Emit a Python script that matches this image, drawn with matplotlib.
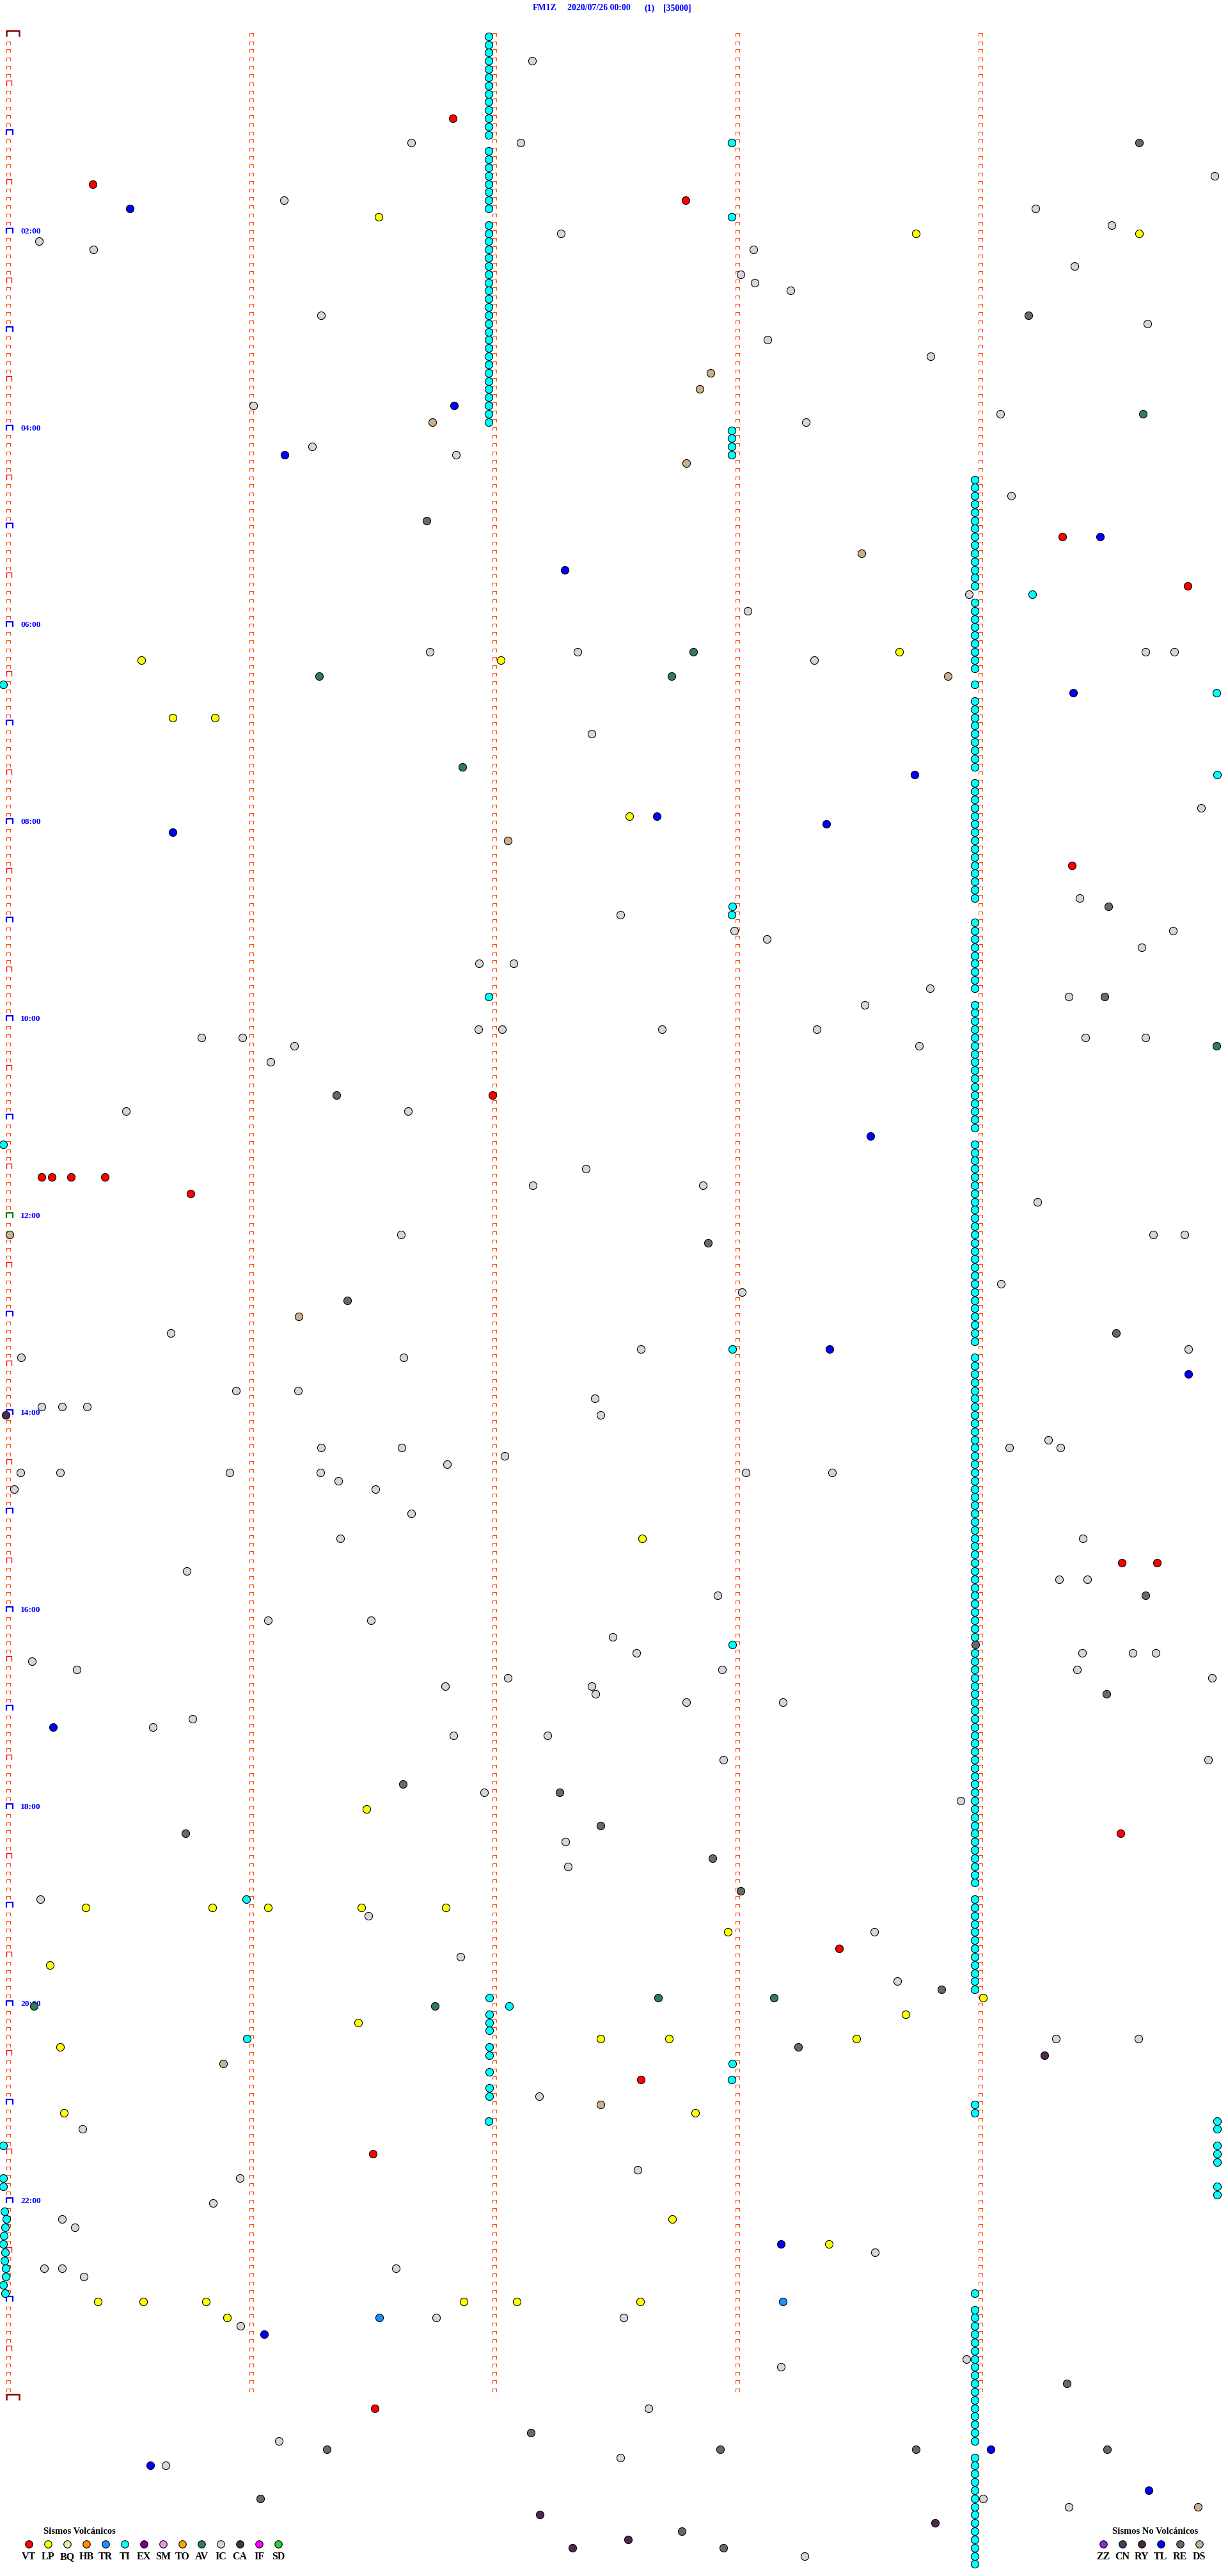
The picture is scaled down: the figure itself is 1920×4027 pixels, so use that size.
import matplotlib
matplotlib.use('Agg')
import matplotlib.pyplot as plt
from matplotlib.path import Path

W, H = 1920, 4027
FILAS = 288          # filas de 5 minutos (24 h)
SERIF = ['Liberation Serif', 'DejaVu Serif']

# Cabecera
estacion = 'FM1Z'
fecha = '2020/07/26 00:00'
pagina = '(1)'
escala = '[35000]'

# Etiquetas de hora (fila, texto)
horas = [(24, '02:00'), (48, '04:00'), (72, '06:00'), (96, '08:00'), (120, '10:00'),
         (144, '12:00'), (168, '14:00'), (192, '16:00'), (216, '18:00'), (240, '20:00'),
         (264, '22:00')]

# Tremor (TI): tramos continuos (minuto dentro de la fila, fila inicial, fila final)
ti_tramos = [(1.985, 0, 12), (1.985, 14, 21), (1.985, 23, 47),
             (2.985, 13, 13), (2.985, 22, 22), (2.985, 48, 51),
             (3.985, 54, 67), (3.985, 69, 77), (3.985, 79, 79), (3.985, 81, 89),
             (3.985, 91, 105), (3.985, 108, 116), (3.985, 118, 133), (3.985, 135, 159),
             (3.985, 161, 195), (3.985, 197, 225), (3.985, 227, 238), (3.985, 252, 253),
             (3.985, 275, 275), (3.985, 277, 293), (3.985, 295, 308)]
# Tremor (TI) sueltos (fila, minuto)
ti_sueltos = [(68, 4.22), (79, -0.013), (80, 4.979), (90, 4.982), (106, 2.987), (107, 2.984),
              (117, 1.985), (135, -0.013), (160, 2.987), (196, 2.987), (227, 0.986),
              (239, 1.988), (240, 2.069), (241, 1.988), (242, 1.988), (243, 1.988),
              (244, 0.989), (245, 1.988), (246, 1.988), (247, 2.987), (248, 1.988),
              (249, 2.984), (250, 1.988), (251, 1.988), (254, 1.985), (254, 4.982),
              (255, 4.982), (257, 4.982), (258, 4.982), (259, 4.982), (262, 4.982),
              (263, 4.982), (257, -0.013), (261, -0.014), (262, -0.014), (265, -0.007),
              (266, -0.001), (267, -0.005), (268, -0.010), (269, -0.012), (270, -0.005),
              (271, -0.008), (272, -0.003), (273, -0.003), (274, -0.012), (275, -0.004)]

# Eventos (fila, minuto dentro de la fila)
ev_ic = [(3, 2.162), (13, 1.666), (13, 2.117), (17, 4.97), (20, 1.141), (21, 4.235), (23, 4.547),
         (24, 2.282), (25, 0.135), (26, 0.358), (26, 3.074), (28, 4.396), (29, 3.02), (30, 3.08),
         (31, 3.226), (34, 1.296), (35, 4.695), (37, 3.132), (39, 3.803), (45, 1.015), (46, 4.09),
         (47, 3.29), (50, 1.257), (51, 1.85), (56, 4.135), (68, 3.96), (70, 3.049), (75, 1.743),
         (75, 2.349), (75, 4.686), (75, 4.805), (76, 3.323), (85, 2.407), (94, 4.915),
         (105, 4.415), (107, 2.527), (109, 2.994), (109, 4.799), (110, 3.129), (111, 4.67),
         (113, 1.946), (113, 2.088), (116, 3.80), (117, 4.37), (118, 3.532), (121, 1.943),
         (121, 2.04), (121, 2.697), (121, 3.335), (122, 0.802), (122, 0.97), (122, 4.44),
         (122, 4.686), (123, 1.183), (123, 3.754), (125, 1.086), (131, 0.493), (131, 1.653),
         (138, 2.385), (140, 2.166), (140, 2.865), (142, 4.241), (146, 1.624), (146, 4.718),
         (146, 4.847), (152, 4.093), (153, 3.026), (158, 0.677), (160, 2.61), (160, 4.863),
         (161, 0.061), (161, 1.634), (165, 0.944), (165, 1.199), (166, 2.42), (167, 0.145),
         (167, 0.229), (167, 0.332), (168, 2.446), (171, 4.286), (172, 1.296), (172, 1.627),
         (172, 4.125), (172, 4.338), (173, 2.05), (174, 1.814), (175, 0.058), (175, 0.222),
         (175, 0.918), (175, 1.292), (175, 3.042), (175, 3.397), (176, 1.366), (177, 0.032),
         (177, 1.518), (180, 1.666), (183, 1.373), (183, 4.428), (187, 0.741), (188, 4.331),
         (188, 4.447), (190, 2.926), (193, 1.076), (193, 1.499), (195, 2.494), (197, 2.591),
         (197, 4.425), (197, 4.634), (197, 4.728), (198, 0.106), (199, 0.29), (199, 2.946),
         (199, 4.405), (200, 2.063), (200, 4.96), (201, 1.805), (201, 2.407), (202, 2.423),
         (203, 2.797), (203, 3.194), (205, 0.767), (206, 0.603), (207, 1.84), (207, 2.227),
         (210, 2.949), (210, 4.944), (214, 1.966), (215, 3.925), (220, 2.301), (223, 2.311),
         (227, 0.139), (229, 1.489), (231, 3.571), (234, 1.869), (237, 3.667), (244, 4.318),
         (244, 4.657), (251, 2.191), (255, 0.313), (260, 2.597), (261, 0.96), (264, 0.851),
         (266, 0.228), (267, 0.282), (270, 3.574), (272, 0.154), (272, 0.228), (272, 1.602),
         (273, 0.318), (278, 1.769), (278, 2.539), (279, 0.964), (283, 3.951), (284, 3.187),
         (289, 2.643), (293, 1.121), (295, 2.527), (296, 0.654), (300, 4.019), (301, 4.37),
         (307, 3.284)]
ev_vt = [(10, 1.837), (18, 0.354), (20, 2.794), (61, 4.344), (67, 4.86), (101, 4.383),
         (129, 2.001), (139, 0.145), (139, 0.187), (139, 0.267), (139, 0.406), (141, 0.757),
         (186, 4.589), (186, 4.734), (219, 4.583), (233, 3.426), (249, 2.61), (258, 1.508),
         (289, 1.515)]
ev_lp = [(22, 1.531), (24, 3.742), (24, 4.66), (75, 3.674), (76, 0.554), (76, 2.033), (83, 0.683),
         (83, 0.857), (95, 2.562), (183, 2.617), (216, 1.482), (228, 0.325), (228, 0.847),
         (228, 1.076), (228, 1.46), (228, 1.808), (231, 2.968), (235, 0.18), (239, 4.019),
         (241, 3.70), (242, 1.447), (244, 2.446), (244, 2.726), (244, 3.497), (245, 0.222),
         (253, 0.238), (253, 2.833), (266, 2.739), (269, 3.384), (276, 0.377), (276, 0.564),
         (276, 0.822), (276, 1.882), (276, 2.101), (276, 2.607), (278, 0.909)]
ev_tl = [(21, 0.509), (45, 1.843), (51, 1.144), (61, 4.50), (65, 2.298), (80, 4.389), (90, 3.738),
         (95, 2.675), (96, 3.374), (97, 0.683), (134, 3.555), (160, 3.387), (163, 4.863),
         (206, 0.193), (269, 3.187), (280, 1.06), (294, 4.051), (296, 0.593), (299, 4.699)]
ev_re = [(13, 4.66), (34, 4.205), (59, 1.73), (106, 4.534), (117, 4.518), (129, 1.357), (147, 2.888),
         (154, 1.402), (158, 4.567), (190, 4.686), (196, 3.987), (202, 4.525), (213, 1.631),
         (214, 2.275), (218, 2.446), (219, 0.738), (222, 2.904), (226, 3.02), (238, 3.848),
         (245, 3.258), (286, 4.363), (292, 2.159), (294, 1.318), (294, 2.936), (294, 3.742),
         (294, 4.528), (300, 1.044), (304, 2.778), (306, 2.949)]
ev_av = [(46, 4.676), (75, 2.826), (78, 1.286), (78, 2.736), (89, 1.876), (123, 4.979),
         (239, 2.681), (239, 3.158), (240, 0.113), (240, 1.763)]
ev_ds = [(41, 2.897), (43, 2.852), (47, 1.753), (52, 2.797), (63, 3.519), (78, 3.874), (98, 2.063),
         (146, 0.013), (156, 1.202), (247, 0.893), (252, 2.446), (301, 4.902)]
ev_tr = [(276, 3.194), (278, 1.534)]
ev_ca = [(168, -0.003), (246, 4.27), (302, 2.195), (303, 3.822), (305, 2.559), (306, 2.33)]

# Leyendas
volc_tipos = ['VT', 'LP', 'BQ', 'HB', 'TR', 'TI', 'EX', 'SM', 'TO', 'AV', 'IC', 'CA', 'IF', 'SD']
volc_colores = ['#FF0000', '#FFFF00', '#EEE8AA', '#FF8C00', '#1E90FF', '#00FFFF', '#800080',
                '#DDA0DD', '#FFA500', '#2E7D5E', '#D6D6D6', '#4B2D4B', '#FF00FF', '#32CD32']
novolc_tipos = ['ZZ', 'CN', 'RY', 'TL', 'RE', 'DS']
novolc_colores = ['#8A2BE2', '#4A3A5C', '#4B2545', '#0000FF', '#696969', '#CDB08A']
color = dict(zip(volc_tipos + novolc_tipos, volc_colores + novolc_colores))


def corchete(w, h):
    # marca en forma de "⊓" anclada en la esquina inferior izquierda
    s = max(w, h)
    return Path([(0, 0), (0, h), (w, h), (w, 0)]), 1.44 * s


fig = plt.figure(figsize=(W / 100, H / 100), dpi=100)
fig.patch.set_facecolor('white')

# ejes en pixeles para cabecera y leyendas
axp = fig.add_axes([0, 0, 1, 1])
axp.set_xlim(0, W)
axp.set_ylim(H, 0)
axp.axis('off')

# ejes del helicorder: x = minuto dentro de la fila, y = fila
top, paso = 56.7, 12.83
bot = top + paso * FILAS
ax = fig.add_axes([10 / W, 1 - bot / H, 1900 / W, (bot - top) / H])
ax.set_xlim(0, 5)
ax.set_ylim(FILAS, 0)
ax.axis('off')

# marcas de minuto
chico, ms_chico = corchete(5.5, 5)
filas_cols = list(range(FILAS))
for col in [1, 2, 3, 4]:
    ax.plot([col] * len(filas_cols), filas_cols, ls='none', marker=chico, ms=ms_chico,
            mfc='none', mec='#FF4500', mew=0.8, clip_on=False)
f_chicas = [r for r in range(1, FILAS) if r % 6 != 0]
ax.plot([0] * len(f_chicas), f_chicas, ls='none', marker=chico, ms=ms_chico,
        mfc='none', mec='#FF4500', mew=0.8, clip_on=False)
media, ms_media = corchete(8, 8)
f_medias = [r for r in range(6, FILAS, 12)]
ax.plot([0] * len(f_medias), f_medias, ls='none', marker=media, ms=ms_media,
        mfc='none', mec='#FF0000', mew=1.0, clip_on=False)
hora, ms_hora = corchete(10, 8)
f_horas = [r for r in range(12, FILAS, 12) if r != 144]
ax.plot([0] * len(f_horas), f_horas, ls='none', marker=hora, ms=ms_hora,
        mfc='none', mec='#0000FF', mew=1.6, clip_on=False)
ax.plot([0], [144], ls='none', marker=hora, ms=ms_hora,
        mfc='none', mec='#008000', mew=1.6, clip_on=False)
dia, ms_dia = corchete(20, 9)
ax.plot([0, 0], [0, FILAS], ls='none', marker=dia, ms=ms_dia,
        mfc='none', mec='#8B0000', mew=1.8, clip_on=False)

for r, txt in horas:
    ax.text(0.058, r, txt, ha='left', va='baseline', color='#0000FF', fontsize=9.7,
            fontweight='bold', family=SERIF, clip_on=False)

# eventos
ti_filas = [r for m, a, b in ti_tramos for r in range(a, b + 1)]
ti_mins = [m for m, a, b in ti_tramos for r in range(a, b + 1)]
ti_filas += [r for r, m in ti_sueltos]
ti_mins += [m for r, m in ti_sueltos]
ax.plot(ti_mins, ti_filas, ls='none', marker='o', ms=8.7, mfc=color['TI'], mec='black',
        mew=0.8, clip_on=False, zorder=4)

for tipo, evs in [('IC', ev_ic), ('VT', ev_vt), ('LP', ev_lp), ('TL', ev_tl), ('RE', ev_re),
                  ('AV', ev_av), ('DS', ev_ds), ('TR', ev_tr), ('CA', ev_ca)]:
    ax.plot([m for r, m in evs], [r for r, m in evs], ls='none', marker='o', ms=8.7,
            mfc=color[tipo], mec='black', mew=0.8, clip_on=False, zorder=5)

# cabecera
for x, txt in [(833, estacion), (887, fecha), (1007, pagina), (1037, escala)]:
    axp.text(x, 13, txt, ha='left', va='center', color='#0000FF', fontsize=10,
             fontweight='bold', family=SERIF)

# leyendas
axp.text(124, 3957, 'Sismos Volcánicos', ha='center', va='center', fontsize=10.5,
         fontweight='bold', family=SERIF, color='black')
for i, (t, c) in enumerate(zip(volc_tipos, volc_colores)):
    axp.plot(45 + 30 * i, 3977, marker='o', ms=8.3, mfc=c, mec='black', mew=0.8)
    axp.text(45 + 30 * i, 3997, t, ha='center', va='center', fontsize=11.5,
             fontweight='bold', family=SERIF, color='black')

axp.text(1806, 3957, 'Sismos No Volcánicos', ha='center', va='center', fontsize=10.5,
         fontweight='bold', family=SERIF, color='black')
for i, (t, c) in enumerate(zip(novolc_tipos, novolc_colores)):
    axp.plot(1725 + 30 * i, 3977, marker='o', ms=8.3, mfc=c, mec='black', mew=0.8)
    axp.text(1725 + 30 * i, 3997, t, ha='center', va='center', fontsize=11.5,
             fontweight='bold', family=SERIF, color='black')

fig.savefig('out.png', dpi=100, facecolor='white')
